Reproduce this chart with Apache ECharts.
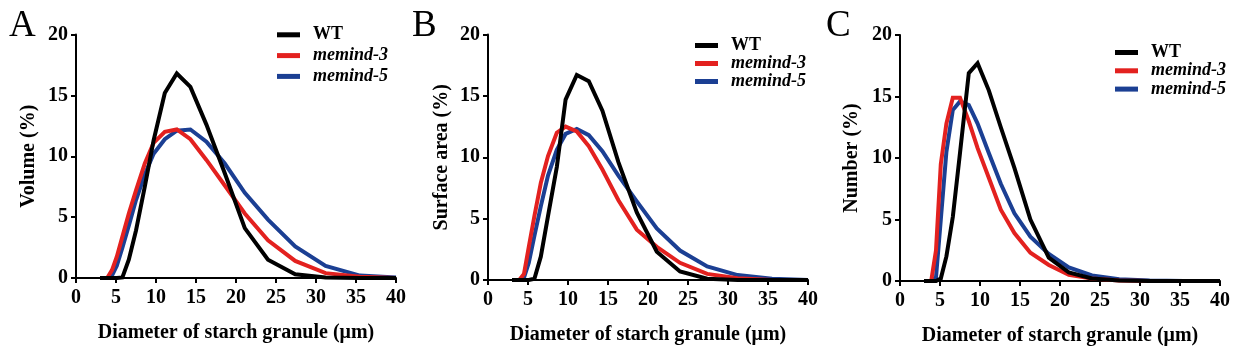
<!DOCTYPE html>
<html>
<head>
<meta charset="utf-8">
<script src="https://cdn.jsdelivr.net/npm/echarts@6/dist/echarts.min.js"></script>
<style>html,body{margin:0;padding:0;background:#fff}#c{width:1243px;height:363px}</style>
</head>
<body>
<div id="c"></div>
<script>
const seriesNames = ['WT', 'memind-3', 'memind-5'];
const panelLetters = ['A', 'B', 'C'];
const yTitles = ['Volume (%)', 'Surface area (%)', 'Number (%)'];
const xTitle = 'Diameter of starch granule (μm)';
const xTicks = [0, 5, 10, 15, 20, 25, 30, 35, 40];
const yTicks = [0, 5, 10, 15, 20];

const diameters = [3.0, 3.5, 3.9, 4.5, 5.1, 5.8, 6.6, 7.5, 8.6, 9.7, 11.1, 12.6, 14.3, 16.3, 18.6, 21.1, 24.0, 27.4, 31.2, 35.5, 40.0];

const volWT  = [0,0,0,0,0,0.05,1.5,3.9,7.5,11.3,15.2,16.8,15.7,12.6,8.6,4.1,1.5,0.3,0.05,0,0];
const volM3  = [0,0,0,0.65,1.75,3.4,5.3,7.2,9.4,11.1,12.0,12.2,11.4,9.7,7.6,5.3,3.1,1.4,0.4,0.1,0];
const volM5  = [0,0,0,0.2,1.0,2.5,4.3,6.4,8.5,10.2,11.4,12.1,12.2,11.2,9.4,7.0,4.8,2.6,1.0,0.2,0.05];

const surfWT = [0,0,0,0,0,0.1,1.9,5.2,9.2,14.7,16.7,16.2,13.8,9.6,5.5,2.3,0.7,0.1,0,0,0];
const surfM3 = [0,0,0,0.5,2.7,5.2,7.9,10.1,12.0,12.5,12.1,10.9,9.0,6.5,4.1,2.7,1.4,0.5,0.15,0,0];
const surfM5 = [0,0,0,0.2,1.4,3.6,6.0,8.5,10.6,11.9,12.3,11.8,10.5,8.5,6.4,4.2,2.4,1.1,0.4,0.1,0];

const numWT  = [0,0,0,0,0.2,2.0,5.2,10.4,16.9,17.7,15.5,12.5,9.2,5.0,1.9,0.7,0.2,0.05,0,0,0];
const numM3  = [0,0,0,2.5,9.5,12.8,14.9,14.9,13.0,10.8,8.4,5.8,3.9,2.3,1.3,0.5,0.2,0.05,0,0,0];
const numM5  = [0,0,0,0.3,5.0,10.5,13.9,14.6,14.3,12.8,10.4,7.9,5.5,3.6,2.2,1.1,0.45,0.15,0.05,0,0];

const panelData = [[volWT, volM3, volM5], [surfWT, surfM3, surfM5], [numWT, numM3, numM5]];

const colors = ['#000000', '#e3211f', '#1b3f93'];
const zs = [5, 4, 3];
const FONT = '"Liberation Serif", "Times New Roman", serif';

const grids = [
  {left: 76, top: 34.5, width: 320, height: 243.5},
  {left: 488, top: 34.5, width: 320, height: 245.5},
  {left: 900, top: 35, width: 320, height: 246}
];
const yNameGaps = [37, 36, 38];
const legendPos = [
  {left: 277, top: 25.8, gap: 2.8},
  {left: 695, top: 36.5, gap: 0},
  {left: 1115, top: 43.5, gap: 0.3}
];
const letterPos = [{left: 9, top: 8}, {left: 412, top: 8}, {left: 826, top: 8}];

const option = {
  animation: false,
  backgroundColor: '#ffffff',
  grid: grids,
  xAxis: grids.map((g, i) => ({
    gridIndex: i, type: 'value', min: 0, max: 40, interval: 5,
    name: xTitle, nameLocation: 'middle', nameGap: 45,
    nameTextStyle: {fontFamily: FONT, fontWeight: 'bold', fontSize: 20, color: '#000'},
    axisLine: {show: true, onZero: false, lineStyle: {color: '#000', width: 2}},
    axisTick: {show: true, length: 5, lineStyle: {color: '#000', width: 2}},
    axisLabel: {fontFamily: FONT, fontWeight: 'bold', fontSize: 20, color: '#000', margin: 10,
      formatter: v => xTicks.includes(v) ? String(v) : ''},
    splitLine: {show: false}
  })),
  yAxis: grids.map((g, i) => ({
    gridIndex: i, type: 'value', min: 0, max: 20, interval: 5,
    name: yTitles[i], nameLocation: 'middle', nameGap: yNameGaps[i],
    nameTextStyle: {fontFamily: FONT, fontWeight: 'bold', fontSize: 20, color: '#000'},
    axisLine: {show: true, lineStyle: {color: '#000', width: 2}},
    axisTick: {show: true, length: 5, lineStyle: {color: '#000', width: 2}},
    axisLabel: {fontFamily: FONT, fontWeight: 'bold', fontSize: 20, color: '#000', margin: 8,
      formatter: v => yTicks.includes(v) ? String(v) : ''},
    splitLine: {show: false}
  })),
  legend: legendPos.map(p => ({
    data: seriesNames, orient: 'vertical', left: p.left, top: p.top, padding: 0,
    itemWidth: 23, itemHeight: 5, itemGap: p.gap, icon: 'rect',
    selectedMode: false,
    textStyle: {fontFamily: FONT, fontWeight: 'bold', fontSize: 18, lineHeight: 15, color: '#000', padding: [0, 0, 0, 8],
      rich: {i: {fontFamily: FONT, fontWeight: 'bold', fontStyle: 'italic', fontSize: 18, lineHeight: 15, color: '#000'}}},
    formatter: n => n === 'WT' ? n : '{i|' + n + '}'
  })),
  graphic: panelLetters.map((L, i) => ({
    type: 'text', left: letterPos[i].left, top: letterPos[i].top,
    style: {text: L, fontFamily: FONT, fontSize: 37, fill: '#000'}
  })),
  series: []
};

panelData.forEach((sets, p) => {
  sets.forEach((vals, s) => {
    option.series.push({
      name: seriesNames[s], type: 'line', xAxisIndex: p, yAxisIndex: p,
      data: diameters.map((d, k) => [d, vals[k]]),
      showSymbol: false, symbol: 'none', smooth: false, z: zs[s],
      color: colors[s],
      lineStyle: {color: colors[s], width: 4, join: 'miter'},
      itemStyle: {color: colors[s]}
    });
  });
});

const chart = echarts.init(document.getElementById('c'), null, {renderer: 'canvas'});
chart.setOption(option);
</script>
</body>
</html>
